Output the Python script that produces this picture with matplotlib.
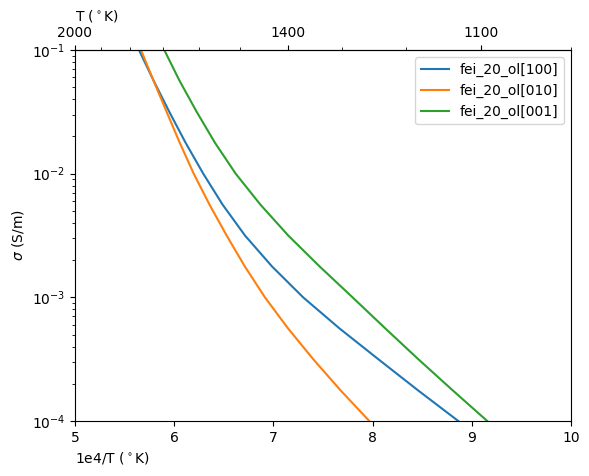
import numpy as np
import matplotlib
matplotlib.use("Agg")
import matplotlib.pyplot as plt
from matplotlib.ticker import FixedLocator

sigma = [1e-1, 5.62e-2, 3.16e-2, 1.778e-2, 1e-2, 5.62e-3, 3.16e-3,
         1.778e-3, 1e-3, 5.62e-4, 3.16e-4, 1.778e-4, 1e-4]

# 1e4/T at each level
x_100 = [5.645, 5.794, 5.951, 6.115, 6.293, 6.488, 6.714,
         6.986, 7.300, 7.665, 8.058, 8.455, 8.864]
x_010 = [5.665, 5.793, 5.924, 6.056, 6.197, 6.356, 6.529,
         6.712, 6.915, 7.147, 7.402, 7.675, 7.967]
x_001 = [5.900, 6.055, 6.227, 6.411, 6.620, 6.869, 7.150,
         7.466, 7.798, 8.127, 8.461, 8.805, 9.156]

labels = ["fei_20_ol[100]", "fei_20_ol[010]", "fei_20_ol[001]"]
T_major = [2000, 1400, 1100]
T_minor = list(range(1000, 2001, 100))


def inv(v):
    v = np.asarray(v, dtype=float)
    with np.errstate(divide="ignore"):
        return np.where(v == 0, np.inf, 1e4 / np.where(v == 0, 1, v))


fig = plt.figure(figsize=(5.89, 4.76), dpi=100)
ax = fig.add_axes([0.1273, 0.1155, 0.8421, 0.7795])

ax.plot(x_100, sigma, label=labels[0])
ax.plot(x_010, sigma, label=labels[1])
ax.plot(x_001, sigma, label=labels[2])

ax.set_yscale("log")
ax.set_xlim(5, 10)
ax.set_ylim(1e-4, 1e-1)
ax.set_xlabel("1e4/T ($^\\circ$K)", loc="left")
ax.set_ylabel("$\\sigma$ (S/m)")
ax.legend(loc="upper right")

top = ax.secondary_xaxis("top", functions=(inv, inv))
top.xaxis.set_major_locator(FixedLocator(T_major))
top.xaxis.set_minor_locator(FixedLocator(T_minor))
top.set_xlabel("T ($^\\circ$K)", loc="left")

fig.savefig("out.png", dpi=100)
